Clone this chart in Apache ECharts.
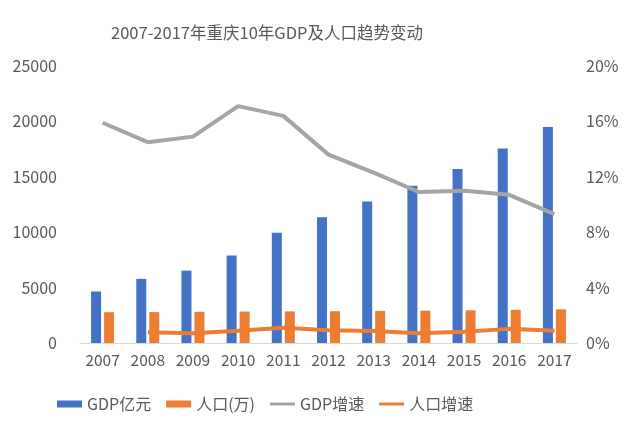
<!DOCTYPE html>
<html>
<head>
<meta charset="utf-8">
<script src="https://cdn.jsdelivr.net/npm/echarts@6/dist/echarts.min.js"></script>
<style>html,body{margin:0;padding:0;background:#fff}#c{width:640px;height:432px}</style>
</head>
<body>
<div id="c"></div>
<script>
var years = ['2007','2008','2009','2010','2011','2012','2013','2014','2015','2016','2017'];
var gdp = [4650, 5790, 6530, 7900, 9950, 11350, 12760, 14200, 15700, 17560, 19500];
var population = [2780, 2790, 2820, 2840, 2850, 2870, 2900, 2920, 2950, 2990, 3040];
var gdpGrowth = [15.9, 14.5, 14.9, 17.1, 16.4, 13.6, 12.3, 10.9, 11.0, 10.7, 9.3];
var popGrowth = [null, 0.78, 0.70, 0.88, 1.10, 0.92, 0.86, 0.70, 0.82, 1.02, 0.88];
var leftTicks = [0, 25000, 5000];
var rightTicks = [0, 20, 4];

var font = '"Noto Sans CJK SC", "Noto Sans", sans-serif';
var chart = echarts.init(document.getElementById('c'));
chart.setOption({
  animation: false,
  backgroundColor: '#ffffff',
  title: {
    text: '2007-2017年重庆10年GDP及人口趋势变动',
    left: 106, top: 19,
    textStyle: {fontFamily: font, fontSize: 16.5, fontWeight: 'normal', color: '#595959'}
  },
  legend: {
    left: 52, top: 391,
    itemWidth: 25, itemHeight: 7, itemGap: 15,
    textStyle: {fontFamily: font, fontSize: 16, color: '#595959'},
    data: [
      {name: 'GDP亿元', icon: 'rect'},
      {name: '人口(万)', icon: 'rect'},
      {name: 'GDP增速', icon: 'path://M0,0H25V3H0Z'},
      {name: '人口增速', icon: 'path://M0,0H25V3H0Z'}
    ]
  },
  grid: {left: 80, right: 63, top: 66, bottom: 89},
  xAxis: {
    type: 'category', data: years,
    axisLine: {lineStyle: {color: '#D9D9D9', width: 1}},
    axisTick: {show: false},
    axisLabel: {interval: 0, fontFamily: font, fontSize: 15.5, color: '#595959', margin: 9}
  },
  yAxis: [
    {type: 'value', min: leftTicks[0], max: leftTicks[1], interval: leftTicks[2],
     splitLine: {show: false}, axisLine: {show: false}, axisTick: {show: false},
     axisLabel: {fontFamily: font, fontSize: 16, color: '#595959', margin: 23, formatter: function (v) { return String(v); }}},
    {type: 'value', min: rightTicks[0], max: rightTicks[1], interval: rightTicks[2],
     splitLine: {show: false}, axisLine: {show: false}, axisTick: {show: false},
     axisLabel: {fontFamily: font, fontSize: 16, color: '#595959', margin: 9, formatter: '{value}%'}}
  ],
  series: [
    {name: 'GDP亿元', type: 'bar', data: gdp, barWidth: 10, barGap: '30%', itemStyle: {color: '#4472C4'}, z: 2},
    {name: '人口(万)', type: 'bar', data: population, barWidth: 10, itemStyle: {color: '#ED7D31'}, z: 2},
    {name: 'GDP增速', type: 'line', yAxisIndex: 1, data: gdpGrowth, symbol: 'none', lineStyle: {color: '#A5A5A5', width: 4}, itemStyle: {color: '#A5A5A5'}, z: 3},
    {name: '人口增速', type: 'line', yAxisIndex: 1, data: popGrowth, symbol: 'none', lineStyle: {color: '#ED7D31', width: 4}, itemStyle: {color: '#ED7D31'}, z: 3}
  ]
});
</script>
</body>
</html>
